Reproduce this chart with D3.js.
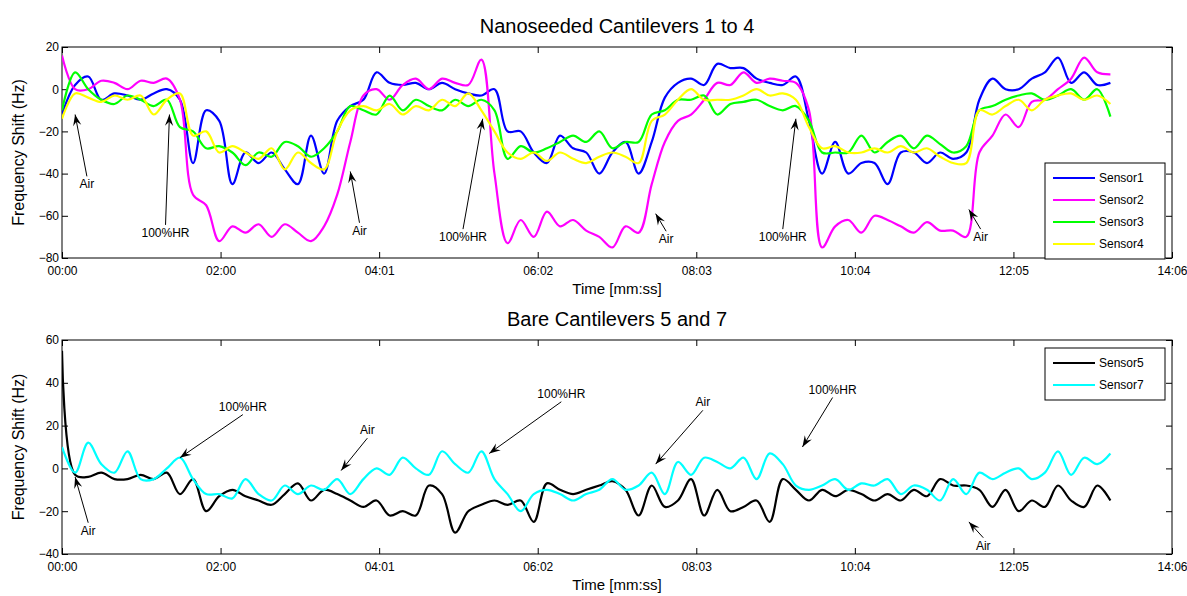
<!doctype html>
<html>
<head>
<meta charset="utf-8" />
<script src="https://cdn.jsdelivr.net/npm/d3@7"></script>
<style>
  html,body{margin:0;background:#fff;}
  svg{font-family:Arial,"Liberation Sans",sans-serif;}
</style>
</head>
<body>
<svg id="chart" width="1187" height="596"></svg>
<script>
// time in seconds, one sample every 10 s
var times = d3.range(0, 801, 10);
var tickSecs = [0,121,242,363,484,605,726,847];
var tickLabels = ["00:00","02:00","04:01","06:02","08:03","10:04","12:05","14:06"];

var sensor1 = [-12,2,6,-5,-2,-3,-5,-2,0,-5,-35,-10,-15,-45,-30,-35,-30,-38,-45,-22,-40,-15,-8,-5,8,3,2,3,0,3,0,-2,-3,0,-20,-20,-30,-35,-22,-28,
  -30,-40,-30,-25,-40,-25,-4,3,5,2,12,10,10,5,3,2,6,-15,-40,-25,-40,-35,-35,-45,-30,-30,-35,-30,-33,-30,-5,5,0,0,5,8,15,3,8,2,3];
var sensor2 = [16,0,0,4,3,0,4,3,5,-5,-50,-55,-72,-65,-68,-64,-70,-64,-68,-72,-65,-50,-25,-3,0,-5,2,5,0,5,3,2,14,-40,-73,-62,-70,-58,-65,-62,
  -67,-70,-75,-65,-68,-45,-25,-15,-12,-5,3,2,8,3,5,4,3,-10,-75,-65,-62,-68,-60,-62,-65,-68,-63,-67,-67,-70,-30,-22,-12,-18,-6,-5,0,5,15,8,7];
var sensor3 = [-10,8,0,-5,-7,-3,-5,-8,-5,-18,-20,-28,-27,-30,-36,-30,-32,-25,-27,-32,-28,-20,-8,-10,-12,-3,-10,-5,-8,-10,-5,-8,-5,-10,-33,-27,-30,-28,-25,-22,
  -25,-20,-28,-25,-25,-12,-10,-5,-5,-3,-12,-7,-6,-5,-8,-10,-8,-15,-30,-30,-30,-22,-30,-25,-22,-28,-22,-26,-30,-27,-10,-8,-5,-3,-2,-5,-3,0,-5,0,-13];
var sensor4 = [-14,-2,-4,-6,-3,-5,-3,-12,-5,-2,-22,-20,-30,-27,-30,-33,-28,-38,-30,-35,-38,-20,-10,-8,-10,-7,-12,-8,-10,-5,-8,-2,-10,-20,-30,-33,-30,-34,-30,-33,
  -35,-32,-30,-32,-35,-15,-12,-5,0,-5,-5,-5,-3,0,-3,-2,-5,-18,-28,-27,-30,-30,-28,-30,-27,-30,-28,-32,-35,-35,-10,-12,-8,-5,-10,-5,-3,-2,-5,-3,-7];
var sensor5 = [55,-3,-4,-2,-5,-5,-3,-5,-2,-12,-5,-20,-13,-10,-13,-15,-17,-12,-7,-15,-10,-12,-15,-18,-15,-22,-20,-22,-8,-12,-30,-20,-17,-15,-17,-15,-25,-7,-10,-12,
  -10,-8,-6,-10,-22,-8,-18,-15,-5,-22,-10,-20,-18,-15,-25,-5,-10,-15,-10,-13,-10,-12,-15,-12,-15,-10,-13,-5,-8,-8,-10,-18,-10,-20,-15,-18,-8,-15,-18,-8,-15];
var sensor7 = [10,-2,12,2,-2,8,-5,-5,0,5,-5,-12,-12,-14,-5,-12,-15,-8,-12,-8,-10,-5,-12,-5,0,-3,5,0,-3,8,2,-2,8,-5,-12,-20,-12,-10,-12,-15,
  -12,-10,-5,-10,-8,-2,-12,3,-3,5,3,0,5,-5,7,2,-8,-10,-8,-5,-10,-7,-8,-5,-12,-8,-10,-15,-5,-12,-2,-5,-2,0,-5,-2,8,-3,5,2,7];

var topSeries = [
  {name:"Sensor1", color:"#0000ff", values:sensor1},
  {name:"Sensor2", color:"#ff00ff", values:sensor2},
  {name:"Sensor3", color:"#00ff00", values:sensor3},
  {name:"Sensor4", color:"#ffff00", values:sensor4}];
var bottomSeries = [
  {name:"Sensor5", color:"#000000", values:sensor5},
  {name:"Sensor7", color:"#00ffff", values:sensor7}];

// annotations: tip (t,v) and label (t,v)
var topNotes = [
  {text:"Air", t:10, v:-12, lt:19, lv:-47},
  {text:"100%HR", t:82, v:-12, lt:79, lv:-70},
  {text:"Air", t:220, v:-39, lt:227, lv:-69},
  {text:"100%HR", t:321, v:-14, lt:306, lv:-72},
  {text:"Air", t:453, v:-59, lt:461, lv:-73},
  {text:"100%HR", t:560, v:-14, lt:550, lv:-72},
  {text:"Air", t:692, v:-57, lt:701, lv:-72}];
var bottomNotes = [
  {text:"Air", t:10, v:-4, lt:20, lv:-31},
  {text:"100%HR", t:90, v:5, lt:138, lv:27},
  {text:"Air", t:213, v:-1, lt:233, lv:16},
  {text:"100%HR", t:326, v:7, lt:381, lv:33},
  {text:"Air", t:453, v:2, lt:489, lv:29},
  {text:"100%HR", t:565, v:10, lt:588, lv:35},
  {text:"Air", t:692, v:-25, lt:703, lv:-38}];

var svg = d3.select("#chart");
var x = d3.scaleLinear().domain([0,847]).range([62,1172]);

function panel(top, bottom, yDomain, yTicks, series, notes, title, legendBox){
  var y = d3.scaleLinear().domain(yDomain).range([bottom, top]);
  var g = svg.append("g");
  g.append("text").attr("x",617).attr("y",top-14).attr("text-anchor","middle")
    .attr("font-size",20).text(title);
  g.append("rect").attr("x",62).attr("y",top).attr("width",1110).attr("height",bottom-top)
    .attr("fill","none").attr("stroke","#000");
  var xa = d3.axisBottom(x).tickValues(tickSecs).tickFormat(function(d,i){return tickLabels[i];}).tickSizeInner(-6).tickSizeOuter(0).tickPadding(8);
  g.append("g").attr("transform","translate(0,"+bottom+")").call(xa);
  g.append("g").attr("transform","translate(0,"+top+")")
    .call(d3.axisTop(x).tickValues(tickSecs).tickFormat("").tickSizeInner(-6).tickSizeOuter(0));
  var ya = d3.axisLeft(y).tickValues(yTicks).tickSizeInner(-6).tickSizeOuter(0).tickPadding(3);
  g.append("g").attr("transform","translate(62,0)").call(ya);
  g.append("g").attr("transform","translate(1172,0)")
    .call(d3.axisRight(y).tickValues(yTicks).tickFormat("").tickSizeInner(-6).tickSizeOuter(0));
  g.selectAll(".domain").remove();
  g.selectAll(".tick text").attr("font-size",12).attr("fill","#000");
  g.append("text").attr("x",617).attr("y",bottom+36).attr("text-anchor","middle").attr("font-size",15).text("Time [mm:ss]");
  g.append("text").attr("transform","translate(24,"+((top+bottom)/2)+") rotate(-90)")
    .attr("text-anchor","middle").attr("font-size",16).text("Frequency Shift (Hz)");

  var line = d3.line().x(function(d,i){return x(times[i]);}).y(function(d){return y(d);})
    .curve(d3.curveCatmullRom.alpha(0.5));
  g.append("clipPath").attr("id","c"+top).append("rect")
    .attr("x",62).attr("y",top).attr("width",1110).attr("height",bottom-top);
  var lines = g.append("g").attr("clip-path","url(#c"+top+")");
  series.forEach(function(s){
    lines.append("path").attr("d",line(s.values)).attr("fill","none")
      .attr("stroke",s.color).attr("stroke-width",2.2);
  });

  notes.forEach(function(n){
    var tx = x(n.t), ty = y(n.v), lx = x(n.lt), ly = y(n.lv);
    var up = ly > ty;
    var sx = lx, sy = up ? ly-12 : ly+4;
    var a = Math.atan2(ty-sy, tx-sx);
    g.append("line").attr("x1",sx).attr("y1",sy).attr("x2",tx).attr("y2",ty).attr("stroke","#000").attr("stroke-width",1);
    var L=12, w=0.35;
    g.append("path").attr("d","M"+tx+","+ty+
      "L"+(tx-L*Math.cos(a-w))+","+(ty-L*Math.sin(a-w))+
      "L"+(tx-L*0.6*Math.cos(a))+","+(ty-L*0.6*Math.sin(a))+
      "L"+(tx-L*Math.cos(a+w))+","+(ty-L*Math.sin(a+w))+"Z").attr("fill","#000");
    g.append("text").attr("x",lx).attr("y",ly).attr("text-anchor","middle").attr("font-size",12).text(n.text);
  });

  var lg = g.append("g").attr("transform","translate("+legendBox[0]+","+legendBox[1]+")");
  lg.append("rect").attr("width",legendBox[2]).attr("height",series.length*22+8)
    .attr("fill","#fff").attr("stroke","#000");
  series.forEach(function(s,i){
    var yy = 15+i*22;
    lg.append("line").attr("x1",8).attr("x2",50).attr("y1",yy).attr("y2",yy).attr("stroke",s.color).attr("stroke-width",2.2);
    lg.append("text").attr("x",54).attr("y",yy+4).attr("font-size",12).text(s.name);
  });
}

panel(47, 258, [-80,20], [-80,-60,-40,-20,0,20], topSeries, topNotes, "Nanoseeded Cantilevers 1 to 4", [1045,163,120]);
panel(340, 554, [-40,60], [-40,-20,0,20,40,60], bottomSeries, bottomNotes, "Bare Cantilevers 5 and 7", [1045,348,120]);
</script>
</body>
</html>
